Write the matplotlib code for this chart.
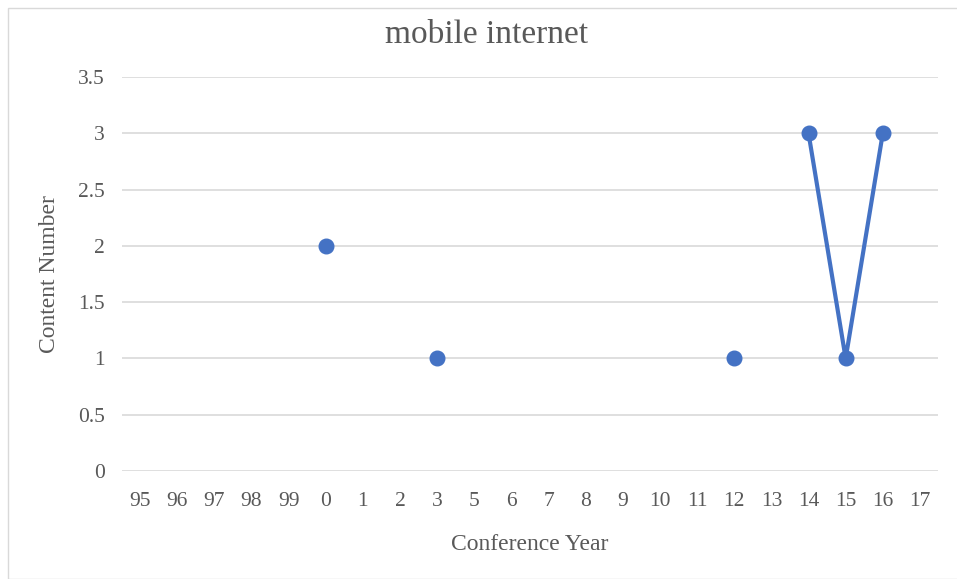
import matplotlib as mpl
import matplotlib.pyplot as plt
import numpy as np

mpl.rcParams['font.family'] = 'Liberation Serif'

# dados
anos = ['95', '96', '97', '98', '99', '0', '1', '2', '3', '5', '6',
        '7', '8', '9', '10', '11', '12', '13', '14', '15', '16', '17']
conteudo = [np.nan, np.nan, np.nan, np.nan, np.nan, 2, np.nan, np.nan, 1, np.nan, np.nan,
            np.nan, np.nan, np.nan, np.nan, np.nan, 1, np.nan, 3, 1, 3, np.nan]
yticks = [0, 0.5, 1, 1.5, 2, 2.5, 3, 3.5]

cinza = '#595959'
azul = '#4472c4'

fig = plt.figure(figsize=(9.57, 5.79), dpi=100)
ax = fig.add_axes([121.5/957, 1 - 471/579, 817/957, 394/579])

x = np.arange(len(anos))
ax.plot(x, conteudo, color=azul, lw=3, marker='o', ms=10.5, zorder=3)

ax.set_xlim(-0.5, len(anos) - 0.5)
ax.set_ylim(0, 3.5)
ax.set_xticks(x)
ax.set_xticklabels(anos)
ax.set_yticks(yticks)
ax.set_yticklabels([f'{v:g}' for v in yticks])
ax.tick_params(length=0, labelsize=15.5, colors=cinza)
ax.tick_params(axis='x', pad=15)
ax.tick_params(axis='y', pad=12)
ax.grid(axis='y', color='#d9d9d9', lw=1.2)
ax.set_axisbelow(True)
for s in ax.spines.values():
    s.set_visible(False)

ax.set_xlabel('Conference Year', fontsize=17, color=cinza, labelpad=17)
ax.set_ylabel('Content Number', fontsize=17, color=cinza, labelpad=13)
fig.text(0.508, 0.94, 'mobile internet', fontsize=24, color=cinza, ha='center', va='center')

# borda do gráfico
fig.add_artist(plt.Rectangle((8/957, 0), 1, 1 - 8/579, transform=fig.transFigure,
                             fill=False, ec='#d9d9d9', lw=1))

fig.savefig('out.png', dpi=100)
plt.close()
